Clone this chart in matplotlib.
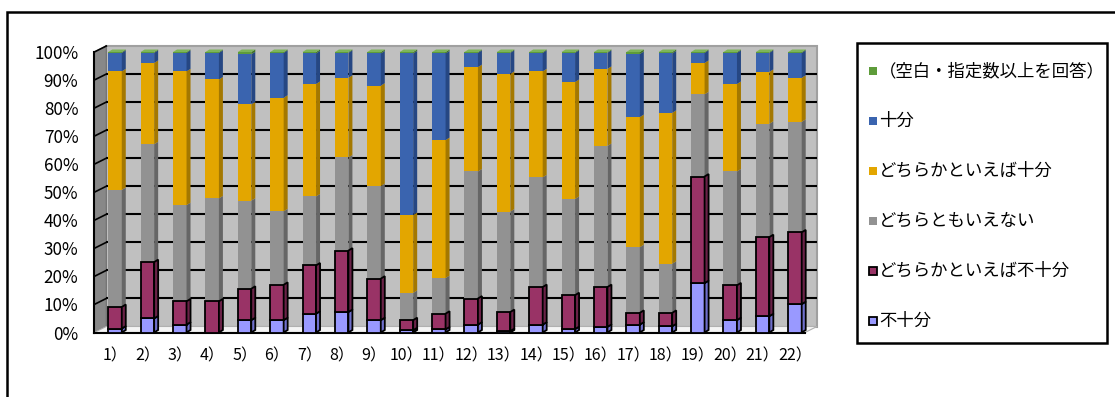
import numpy as np
import matplotlib.pyplot as plt
from matplotlib.patches import Polygon, Rectangle

plt.rcParams['font.family'] = ['Noto Sans CJK JP', 'DejaVu Sans']

W, H = 1115, 397

questions = [f"{i}）" for i in range(1, 23)]

# percentages per question, bottom segment first
fujubun = [1.4, 5.0, 2.8, 0.0, 4.4, 4.4, 6.7, 7.3, 4.4, 0.8, 1.1,
           2.8, 0.5, 2.8, 1.2, 2.0, 2.8, 2.2, 17.6, 4.4, 5.8, 10.1]
dochira_fujubun = [7.7, 20.1, 8.3, 11.1, 11.2, 12.6, 17.2, 21.9, 14.8, 3.6, 5.6,
                   9.3, 6.8, 13.4, 12.1, 14.2, 4.2, 4.8, 38.0, 12.4, 28.2, 25.6]
dochiramo = [41.7, 42.0, 34.3, 36.7, 31.4, 26.2, 24.6, 33.2, 33.0, 9.7, 12.7,
             45.3, 35.8, 39.1, 34.3, 50.3, 23.4, 17.5, 29.3, 40.6, 40.4, 39.4]
dochira_jubun = [42.3, 29.0, 47.7, 42.4, 34.3, 40.5, 40.1, 28.4, 35.8, 27.8, 49.2,
                 37.2, 49.1, 37.8, 41.7, 27.5, 46.4, 53.8, 11.2, 31.2, 18.5, 15.7]
jubun = [6.6, 3.6, 6.6, 9.5, 17.9, 16.0, 10.9, 8.9, 11.5, 57.6, 30.9,
         5.1, 7.5, 6.6, 10.4, 5.7, 22.5, 21.2, 3.6, 11.1, 6.8, 8.9]
kuhaku = [0.3, 0.3, 0.3, 0.3, 0.8, 0.3, 0.5, 0.3, 0.5, 0.5, 0.5,
          0.3, 0.3, 0.3, 0.3, 0.3, 0.7, 0.5, 0.3, 0.3, 0.3, 0.3]

series = [
    ("不十分", fujubun, "#9999FF", "#6F6FCC", True),
    ("どちらかといえば不十分", dochira_fujubun, "#993366", "#6A2247", True),
    ("どちらともいえない", dochiramo, "#929292", "#666666", False),
    ("どちらかといえば十分", dochira_jubun, "#E3A600", "#A47800", False),
    ("十分", jubun, "#3A64AF", "#264783", False),
    ("（空白・指定数以上を回答）", kuhaku, "#5E9C3A", "#3F7326", False),
]

fig = plt.figure(figsize=(W / 100, H / 100), dpi=100)


def fx(x):
    return x / W


def fy(y):
    return 1 - y / H


# outer frame
fig.patches.append(Rectangle((fx(7), fy(420)), fx(1200), fy(12) - fy(420),
                             transform=fig.transFigure, fill=False,
                             edgecolor='black', lw=1.8))

ax = fig.add_axes([fx(94.3), fy(332.5), fx(805) - fx(94.3), fy(52) - fy(332.5)])
x0, x1 = -0.64, 21.31
ax.set_xlim(x0, x1)
ax.set_ylim(0, 100)
ax.patch.set_visible(False)
for s in ax.spines.values():
    s.set_visible(False)

ppx = (805 - 94.3) / (x1 - x0)   # pixels per category
ppy = (332.5 - 52) / 100         # pixels per percent

# depth of the walls and of the bars
dx, dy = 12 / ppx, 6 / ppy
sdx, sdy = 4 / ppx, 2.5 / ppy
bw = 13.5 / ppx

# walls and floor
ax.add_patch(Polygon([(x0 + dx, dy), (x1 + dx, dy), (x1 + dx, 100 + dy), (x0 + dx, 100 + dy)],
                     closed=True, facecolor='#C0C0C0', edgecolor='#A0A0A0', lw=1.5,
                     zorder=0, clip_on=False))
ax.add_patch(Polygon([(x0, 0), (x0 + dx, dy), (x0 + dx, 100 + dy), (x0, 100)],
                     closed=True, facecolor='#888888', edgecolor='#707070', lw=0.8,
                     zorder=0.5, clip_on=False))
ax.add_patch(Polygon([(x0, 0), (x1, 0), (x1 + dx, dy), (x0 + dx, dy)],
                     closed=True, facecolor='#F4F4F4', edgecolor='#B0B0B0', lw=0.8,
                     zorder=0.5, clip_on=False))

for v in range(10, 100, 10):
    ax.plot([x0 + dx, x1 + dx], [v + dy, v + dy], color='black', lw=1.5, zorder=1,
            clip_on=False, solid_capstyle='butt')
    ax.plot([x0, x0 + dx], [v, v + dy], color='black', lw=1.2, zorder=1, clip_on=False)
ax.plot([x0, x0 + dx], [100, 100 + dy], color='black', lw=1.2, zorder=1, clip_on=False)
ax.plot([x0, x0], [0, 100], color='black', lw=1.5, zorder=1, clip_on=False)
ax.plot([x0, x1], [0, 0], color='black', lw=1.5, zorder=1, clip_on=False)

# stacked 3D-looking bars
xs = np.arange(len(questions))
bottoms = np.zeros(len(questions))
for k, (name, vals, face, side, outlined) in enumerate(series):
    vals = np.array(vals)
    z = 3 if outlined else 2
    ec = 'black' if outlined else 'none'
    lw = 1.3 if outlined else 0
    ax.bar(xs, vals, bottom=bottoms, width=bw, color=face, edgecolor=ec, lw=lw,
           zorder=z, clip_on=False)
    for xi, b, v in zip(xs, bottoms, vals):
        if v <= 0:
            continue
        r = xi + bw / 2
        ax.add_patch(Polygon([(r, b), (r + sdx, b + sdy), (r + sdx, b + v + sdy), (r, b + v)],
                             closed=True, facecolor=side, edgecolor=ec, lw=lw,
                             zorder=z, clip_on=False))
        if k == len(series) - 1:
            l = xi - bw / 2
            t = b + v
            ax.add_patch(Polygon([(l, t), (l + sdx, t + sdy), (r + sdx, t + sdy), (r, t)],
                                 closed=True, facecolor='#7DB55A', edgecolor='none',
                                 zorder=z, clip_on=False))
    bottoms = bottoms + vals

ax.set_yticks(range(0, 101, 10))
ax.set_yticklabels([f"{v}%" for v in range(0, 101, 10)], fontsize=12.3)
ax.set_xticks(xs)
ax.set_xticklabels(questions, fontsize=11.5)
ax.tick_params(axis='y', length=0, pad=11.5)
ax.tick_params(axis='x', length=0, pad=11)

# legend box
fig.patches.append(Rectangle((fx(857), fy(343)), fx(1107) - fx(857), fy(43) - fy(343),
                             transform=fig.transFigure, fill=False,
                             edgecolor='black', lw=1.8))
row_y = [71, 121, 171, 221, 271, 321]
for (name, vals, face, side, outlined), ry in zip(reversed(series), row_y):
    fig.patches.append(Rectangle((fx(869), fy(ry + 4)), fx(8), fy(0) - fy(8),
                                 transform=fig.transFigure, facecolor=face,
                                 edgecolor='black' if outlined else 'none',
                                 lw=1.3 if outlined else 0))
    fig.text(fx(879), fy(ry), name, fontsize=12.5, ha='left', va='center')

fig.savefig("out.png", dpi=100)
